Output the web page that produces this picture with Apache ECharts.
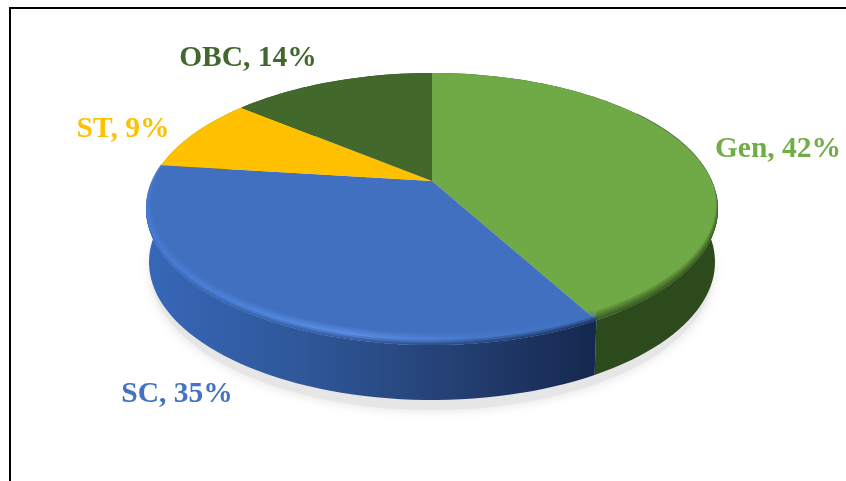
<!DOCTYPE html>
<html>
<head>
<meta charset="utf-8">
<script src="https://cdn.jsdelivr.net/npm/echarts@6/dist/echarts.min.js"></script>
<style>
html, body { margin: 0; padding: 0; background: #fff; }
#main { width: 846px; height: 481px; }
</style>
</head>
<body>
<div id="main"></div>
<script>
const categories = ['Gen', 'SC', 'ST', 'OBC'];
const shares = [42, 35, 9, 14];

const faceColors = ['#6faa46', '#4070bf', '#ffc000', '#43682b'];
const labelColors = ['#70ad47', '#4472c4', '#ffc000', '#43682b'];
const labelCenters = [[778, 149], [177, 394], [123, 129], [248, 58]];

// ellipse of the top face and of the bottom edge, k pushes the apex back (perspective)
const topRim = { cx: 432, cy: 209, rx: 286, ry: 136 };
const bottomRim = { cx: 432, cy: 262, rx: 283, ry: 138 };
const k = 0.205;
const total = shares.reduce(function (a, b) { return a + b; }, 0);

function rimPoint(rim, deg) {
    const t = deg * Math.PI / 180;
    const x = Math.sin(t), y = Math.cos(t);
    const d = 1 + k * y;
    const px = x * Math.sqrt(1 - k * k) / d;
    const py = (y + k) / d;
    return [rim.cx + rim.rx * px, rim.cy - rim.ry * py];
}

function arc(rim, from, to) {
    const pts = [];
    const n = Math.max(2, Math.ceil((to - from) / 2));
    for (let i = 0; i <= n; i++) {
        pts.push(rimPoint(rim, from + (to - from) * i / n));
    }
    return pts;
}

function sliceRange(index) {
    let start = 0;
    for (let i = 0; i < index; i++) start += shares[i];
    return [start / total * 360, (start + shares[index]) / total * 360];
}

function gradient(x0, x1, stops) {
    return new echarts.graphic.LinearGradient(x0, 0, x1, 0, stops, true);
}

const sideDark = gradient(148, 594, [
    { offset: 0, color: '#3767b8' },
    { offset: 0.35, color: '#2f5799' },
    { offset: 0.7, color: '#243f72' },
    { offset: 1, color: '#15284e' }
]);
const sideLight = gradient(146, 594, [
    { offset: 0, color: '#4a80dc' },
    { offset: 0.15, color: '#5088e6' },
    { offset: 0.45, color: '#6ea2ff' },
    { offset: 0.75, color: '#4a7cd2' },
    { offset: 1, color: '#4070bf' }
]);
const wallFills = ['#2d4a1c', sideDark, '#a07a00', '#2b4719'];

// soft edge of the top face: a = lift of the inner ellipse, b = side inset
const bevels = [
    [
        { a: 5, b: 2, fill: '#2d4a1c', opacity: 0.18 },
        { a: 4, b: 1.5, fill: '#2d4a1c', opacity: 0.2 },
        { a: 3, b: 1, fill: '#2d4a1c', opacity: 0.22 },
        { a: 2, b: 0.5, fill: '#2d4a1c', opacity: 0.3 },
        { a: 1, b: 0.25, fill: '#2d4a1c', opacity: 0.4 }
    ],
    [
        { a: 6, b: 5, fill: sideLight, opacity: 0.15 },
        { a: 5, b: 4, fill: sideLight, opacity: 0.2 },
        { a: 4, b: 3, fill: sideLight, opacity: 0.25 },
        { a: 3, b: 2, fill: sideLight, opacity: 0.25 },
        { a: 2.5, b: 0, fill: sideDark, opacity: 0.3 },
        { a: 1.5, b: 0, fill: sideDark, opacity: 0.4 },
        { a: 0.75, b: 0, fill: sideDark, opacity: 0.5 }
    ]
];
const bevelStart = [55, 151.2];
const bevelEnd = [151.2, 277.2];

function renderWall(params) {
    const r = sliceRange(params.dataIndex);
    const pts = arc(topRim, r[0], r[1]).concat(arc(bottomRim, r[0], r[1]).reverse());
    return { type: 'polygon', shape: { points: pts }, style: { fill: wallFills[params.dataIndex] } };
}

function renderTop(params) {
    const i = params.dataIndex;
    const r = sliceRange(i);
    const apex = [topRim.cx, topRim.cy - topRim.ry * k];
    const children = [{
        type: 'polygon',
        shape: { points: [apex].concat(arc(topRim, r[0], r[1])) },
        style: { fill: faceColors[i] }
    }];
    (bevels[i] || []).forEach(function (b) {
        const inner = { cx: topRim.cx, cy: topRim.cy - b.a, rx: topRim.rx - b.b, ry: topRim.ry - b.a };
        const outer = arc(topRim, bevelStart[i], bevelEnd[i]);
        children.push({
            type: 'polygon',
            shape: { points: outer.concat(arc(inner, bevelStart[i], bevelEnd[i]).reverse()) },
            style: { fill: b.fill, opacity: b.opacity }
        });
    });
    return { type: 'group', children: children };
}

function renderLabel(params) {
    const i = params.dataIndex;
    return {
        type: 'text',
        x: labelCenters[i][0],
        y: labelCenters[i][1],
        style: {
            text: categories[i] + ', ' + shares[i] + '%',
            fill: labelColors[i],
            font: 'bold 29.5px "Liberation Serif", serif',
            align: 'center',
            verticalAlign: 'middle'
        }
    };
}

const myChart = echarts.init(document.getElementById('main'));
myChart.setOption({
    animation: false,
    backgroundColor: '#fff',
    graphic: [
        {
            type: 'ellipse',
            shape: { cx: 432, cy: 271, rx: 281, ry: 139 },
            style: { fill: '#e6e6e6', shadowBlur: 12, shadowColor: '#e0e0e0' }
        },
        {
            type: 'polyline',
            shape: { points: [[10, 481], [10, 8], [846, 8]] },
            style: { fill: null, stroke: '#000', lineWidth: 2 }
        }
    ],
    series: [
        { type: 'custom', coordinateSystem: 'none', silent: true, data: shares, renderItem: renderWall, z: 2 },
        { type: 'custom', coordinateSystem: 'none', silent: true, data: shares, renderItem: renderTop, z: 3 },
        { type: 'custom', coordinateSystem: 'none', silent: true, data: shares, renderItem: renderLabel, z: 4 }
    ]
});
</script>
</body>
</html>
